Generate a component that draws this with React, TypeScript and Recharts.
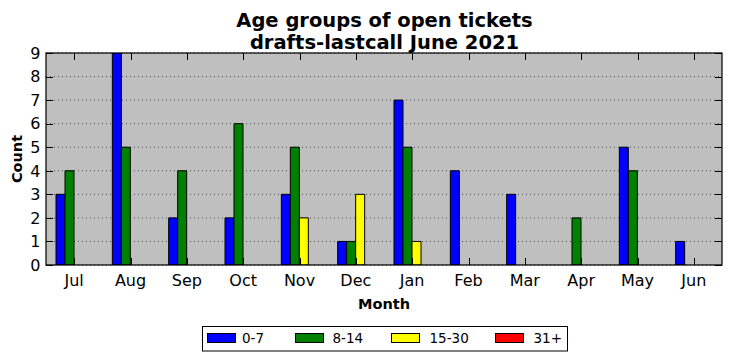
import React from 'react';
import { BarChart, Bar, XAxis, YAxis, CartesianGrid } from 'recharts';

const MONTHS = ['Jul', 'Aug', 'Sep', 'Oct', 'Nov', 'Dec', 'Jan', 'Feb', 'Mar', 'Apr', 'May', 'Jun'];
const AGE_0_7 = [3, 9, 2, 2, 3, 1, 7, 4, 3, 0, 5, 1];
const AGE_8_14 = [4, 5, 4, 6, 5, 1, 5, 0, 0, 2, 4, 0];
const AGE_15_30 = [0, 0, 0, 0, 2, 3, 1, 0, 0, 0, 0, 0];
const AGE_31_PLUS = [0, 0, 0, 0, 0, 0, 0, 0, 0, 0, 0, 0];
const Y_TICKS = [0, 1, 2, 3, 4, 5, 6, 7, 8, 9];

const SERIES = [
  { key: 'a', name: '0-7', color: '#0000ff', values: AGE_0_7 },
  { key: 'b', name: '8-14', color: '#008000', values: AGE_8_14 },
  { key: 'c', name: '15-30', color: '#ffff00', values: AGE_15_30 },
  { key: 'd', name: '31+', color: '#ff0000', values: AGE_31_PLUS },
];

const data = MONTHS.map((m, i) => {
  const row: Record<string, string | number> = { month: m };
  SERIES.forEach((s) => {
    row[s.key] = s.values[i];
  });
  return row;
});

const FONT = '"DejaVu Sans", sans-serif';
const W = 732;
const H = 361;
const PL = 46;
const PR = 722;
const PT = 53;
const PB = 265;
const TICK = 7;

const LEGEND_X = [207, 295, 391, 495];
const LEGEND_TEXT_X = [242, 332.5, 429.5, 533.5];

const crisp = (v: any) => Math.round(Number(v)) + 0.5;

const XTick = (props: any) => {
  const { x, payload } = props;
  const cx = crisp(x);
  return (
    <g>
      <path d={`M${cx},${PB}V${PB - TICK}M${cx},${PT}V${PT + TICK}`} stroke="#000" strokeWidth={1} fill="none" />
      <text x={Number(x)} y={285.5} textAnchor="middle" fontFamily={FONT} fontSize={16} fill="#000">
        {payload.value}
      </text>
    </g>
  );
};

const YTick = (props: any) => {
  const { y, payload } = props;
  const cy = crisp(y);
  return (
    <g>
      <path d={`M${PL},${cy}H${PL + TICK}M${PR},${cy}H${PR - TICK}`} stroke="#000" strokeWidth={1} fill="none" />
      <text x={40.5} y={Number(y)} dy="0.36em" textAnchor="end" fontFamily={FONT} fontSize={16} fill="#000">
        {payload.value}
      </text>
    </g>
  );
};

export default function App() {
  return (
    <div style={{ position: 'absolute', left: 0, top: 0, width: W, height: H, background: '#fff', fontFamily: FONT }}>
      <svg width={W} height={H} style={{ position: 'absolute', left: 0, top: 0 }}>
        <rect x={PL} y={PT} width={PR - PL} height={PB - PT} fill="#bfbfbf" />
      </svg>
      <div style={{ position: 'absolute', left: 0, top: 0 }}>
        <BarChart
          width={W}
          height={H}
          data={data}
          margin={{ top: PT, right: W - PR, bottom: 56, left: 0 }}
          barGap={0}
          barSize={9}
        >
          <CartesianGrid
            vertical={false}
            fill="none"
            stroke="#000"
            strokeWidth={0.6}
            strokeDasharray="1 3"
          />
          <XAxis
            dataKey="month"
            type="category"
            height={H - PB - 56}
            axisLine={false}
            tickLine={false}
            interval={0}
            tick={XTick}
          />
          <YAxis
            width={PL}
            domain={[0, 9]}
            ticks={Y_TICKS}
            interval={0}
            allowDataOverflow
            axisLine={false}
            tickLine={false}
            tick={YTick}
          />
          {SERIES.map((s) => (
            <Bar
              key={s.key}
              dataKey={s.key}
              name={s.name}
              fill={s.color}
              stroke="#000"
              strokeWidth={1}
              isAnimationActive={false}
            />
          ))}
        </BarChart>
      </div>
      <svg
        width={W}
        height={H}
        style={{ position: 'absolute', left: 0, top: 0, pointerEvents: 'none' }}
      >
        <rect x={PL} y={PT} width={PR - PL} height={PB - PT} fill="none" stroke="#000" strokeWidth={1.2} />
        <text x={384.5} y={26.5} textAnchor="middle" fontFamily={FONT} fontWeight="bold" fontSize={19.5} fill="#000">
          Age groups of open tickets
        </text>
        <text x={384.5} y={49} textAnchor="middle" fontFamily={FONT} fontWeight="bold" fontSize={19.5} fill="#000">
          drafts-lastcall June 2021
        </text>
        <text x={384} y={308.5} textAnchor="middle" fontFamily={FONT} fontWeight="bold" fontSize={14.5} fill="#000">
          Month
        </text>
        <text
          x={21.5}
          y={159}
          transform="rotate(-90 21.5 159)"
          textAnchor="middle"
          fontFamily={FONT}
          fontWeight="bold"
          fontSize={14.5}
          fill="#000"
        >
          Count
        </text>
        <rect x={202.5} y={326.5} width={365} height={24.5} fill="#fff" stroke="#000" strokeWidth={1} />
        {SERIES.map((s, i) => (
          <g key={s.key}>
            <rect x={LEGEND_X[i] + 0.5} y={333.5} width={28} height={9} fill={s.color} stroke="#000" strokeWidth={1} />
            <text x={LEGEND_TEXT_X[i]} y={342.7} fontFamily={FONT} fontSize={13.5} fill="#000">
              {s.name}
            </text>
          </g>
        ))}
      </svg>
    </div>
  );
}
